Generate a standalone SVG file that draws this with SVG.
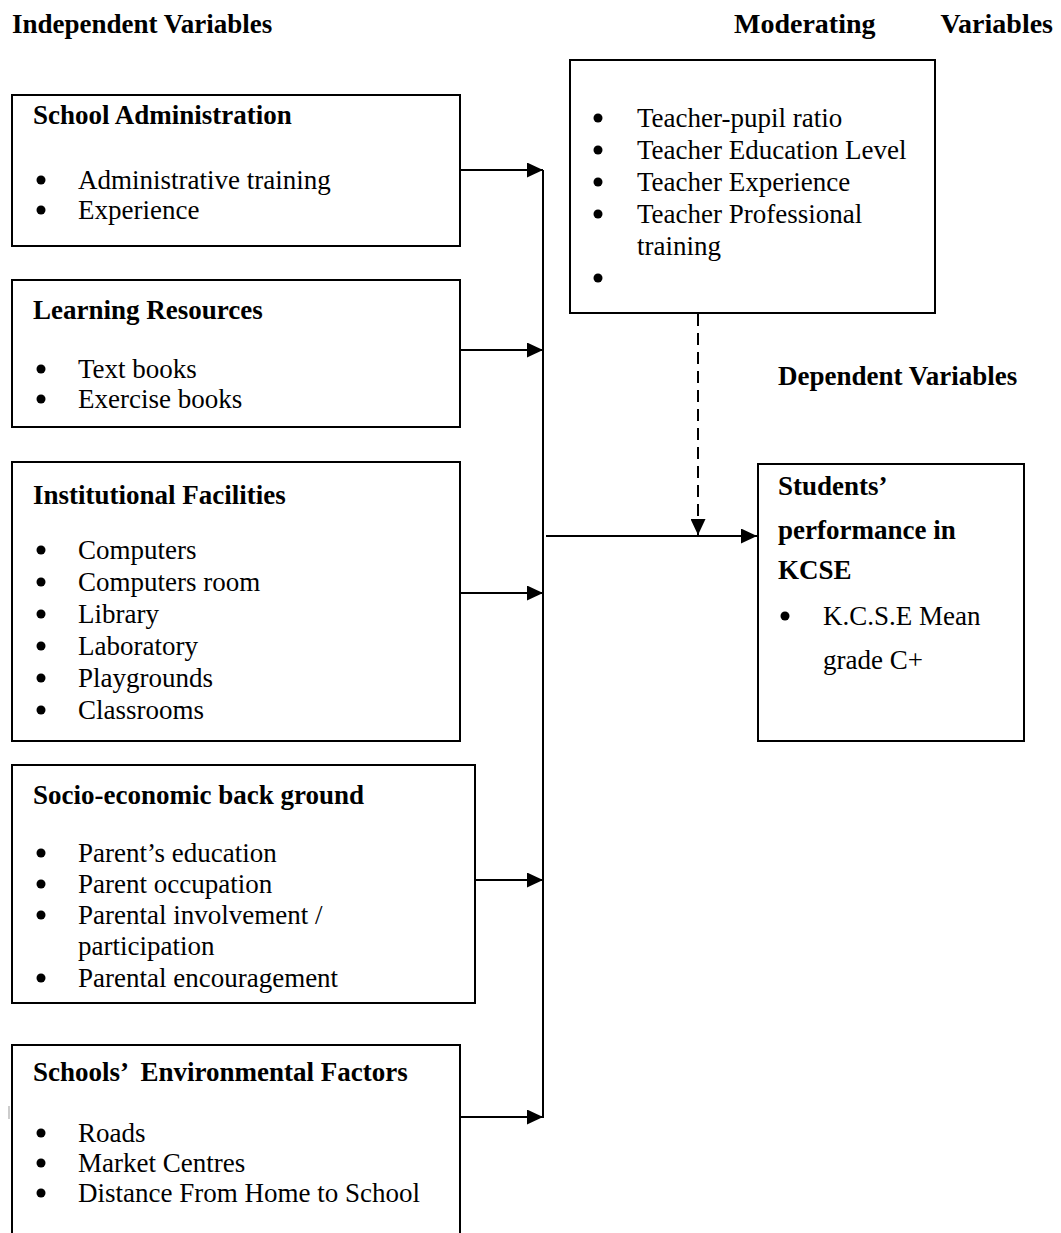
<svg xmlns="http://www.w3.org/2000/svg" width="1061" height="1233" viewBox="0 0 1061 1233">
<defs>
<style>
text{font-family:"Liberation Serif","Times New Roman",serif;font-size:27px;fill:#000}
.b{font-weight:bold}
.h{font-size:28px}
.box{fill:#fff;stroke:#000;stroke-width:2}
.ln{fill:none;stroke:#000;stroke-width:2}
.dash{fill:none;stroke:#000;stroke-width:2;stroke-dasharray:12,7}
.dot{fill:#000}
</style>
<marker id="ah" markerWidth="17" markerHeight="15" refX="16" refY="7.5" orient="auto" markerUnits="userSpaceOnUse">
<path d="M0,0 L16,7.5 L0,15 Z" fill="#000"/>
</marker>
</defs>
<rect width="1061" height="1233" fill="#fff"/>
<text class="b" x="12" y="33">Independent Variables</text>
<text class="b h" x="734" y="33">Moderating</text>
<text class="b h" x="1053" y="33" text-anchor="end">Variables</text>
<text class="b" x="778" y="385">Dependent Variables</text>

<g id="connectors">
<line class="ln" x1="543" y1="170" x2="543" y2="1118"/>
<line class="ln" x1="460" y1="170" x2="543" y2="170" marker-end="url(#ah)"/>
<line class="ln" x1="460" y1="350" x2="543" y2="350" marker-end="url(#ah)"/>
<line class="ln" x1="460" y1="593" x2="543" y2="593" marker-end="url(#ah)"/>
<line class="ln" x1="475" y1="880" x2="543" y2="880" marker-end="url(#ah)"/>
<line class="ln" x1="460" y1="1117" x2="543" y2="1117" marker-end="url(#ah)"/>
<line class="ln" x1="546" y1="536" x2="757" y2="536" marker-end="url(#ah)"/>
<line class="dash" x1="698" y1="314" x2="698" y2="535" marker-end="url(#ah)"/>
</g>

<g id="school-admin">
<rect class="box" x="12" y="95" width="448" height="151"/>
<text class="b" x="33" y="124">School Administration</text>
<circle class="dot" cx="41" cy="180" r="4.5"/><text x="78" y="189">Administrative training</text>
<circle class="dot" cx="41" cy="210" r="4.5"/><text x="78" y="219">Experience</text>
</g>

<g id="learning-resources">
<rect class="box" x="12" y="280" width="448" height="147"/>
<text class="b" x="33" y="319">Learning Resources</text>
<circle class="dot" cx="41" cy="369" r="4.5"/><text x="78" y="378">Text books</text>
<circle class="dot" cx="41" cy="399" r="4.5"/><text x="78" y="408">Exercise books</text>
</g>

<g id="institutional-facilities">
<rect class="box" x="12" y="462" width="448" height="279"/>
<text class="b" x="33" y="504">Institutional Facilities</text>
<circle class="dot" cx="41" cy="550" r="4.5"/><text x="78" y="559">Computers</text>
<circle class="dot" cx="41" cy="582" r="4.5"/><text x="78" y="591">Computers room</text>
<circle class="dot" cx="41" cy="614" r="4.5"/><text x="78" y="623">Library</text>
<circle class="dot" cx="41" cy="646" r="4.5"/><text x="78" y="655">Laboratory</text>
<circle class="dot" cx="41" cy="678" r="4.5"/><text x="78" y="687">Playgrounds</text>
<circle class="dot" cx="41" cy="710" r="4.5"/><text x="78" y="719">Classrooms</text>
</g>

<g id="socio-economic">
<rect class="box" x="12" y="765" width="463" height="238"/>
<text class="b" x="33" y="804">Socio-economic back ground</text>
<circle class="dot" cx="41" cy="853" r="4.5"/><text x="78" y="862">Parent’s education</text>
<circle class="dot" cx="41" cy="884" r="4.5"/><text x="78" y="893">Parent occupation</text>
<circle class="dot" cx="41" cy="915" r="4.5"/><text x="78" y="924">Parental involvement /</text>
<text x="78" y="955">participation</text>
<circle class="dot" cx="41" cy="978" r="4.5"/><text x="78" y="987">Parental encouragement</text>
</g>

<g id="environmental-factors">
<path class="ln" d="M12,1240 V1045 H460 V1240"/>
<text class="b" x="33" y="1081" xml:space="preserve" style="white-space:pre">Schools’  Environmental Factors</text>
<circle class="dot" cx="41" cy="1133" r="4.5"/><text x="78" y="1142">Roads</text>
<circle class="dot" cx="41" cy="1163" r="4.5"/><text x="78" y="1172">Market Centres</text>
<circle class="dot" cx="41" cy="1193" r="4.5"/><text x="78" y="1202">Distance From Home to School</text>
<line x1="9" y1="1106" x2="9" y2="1119" stroke="#999" stroke-width="1"/>
</g>

<g id="moderating">
<rect class="box" x="570" y="60" width="365" height="253"/>
<circle class="dot" cx="598" cy="118" r="4.5"/><text x="637" y="127">Teacher-pupil ratio</text>
<circle class="dot" cx="598" cy="150" r="4.5"/><text x="637" y="159">Teacher Education Level</text>
<circle class="dot" cx="598" cy="182" r="4.5"/><text x="637" y="191">Teacher Experience</text>
<circle class="dot" cx="598" cy="214" r="4.5"/><text x="637" y="223">Teacher Professional</text>
<text x="637" y="255">training</text>
<circle class="dot" cx="598" cy="278" r="4.5"/>
</g>

<g id="dependent">
<rect class="box" x="758" y="464" width="266" height="277"/>
<text class="b" x="778" y="495">Students’</text>
<text class="b" x="778" y="539">performance in</text>
<text class="b" x="778" y="579">KCSE</text>
<circle class="dot" cx="785" cy="616" r="4.5"/><text x="823" y="625">K.C.S.E Mean</text>
<text x="823" y="669">grade C+</text>
</g>
</svg>
